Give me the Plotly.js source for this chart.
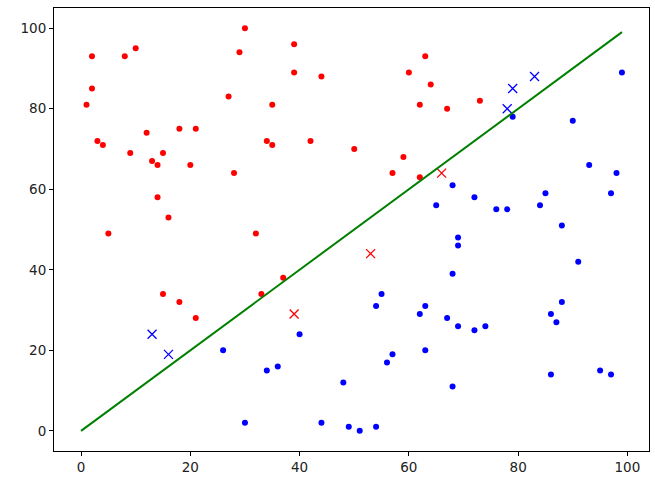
<!DOCTYPE html>
<html>
<head>
<meta charset="utf-8">
<script src="https://cdn.plot.ly/plotly-3.0.1.min.js"></script>
<style>html,body{margin:0;padding:0;background:#fff;}#chart{width:655px;height:491px;}</style>
</head>
<body>
<div id="chart"></div>
<script>
const redX = [30,2,8,10,29,2,1,27,12,18,21,3,4,9,13,14,15,20,28,14,16,5,32,15,18,21,39,39,44,35,34,35,42,50,59,60,63,64,62,67,73,57,62,37,33];
const redY = [100,93,93,95,94,85,81,83,74,75,75,72,71,69,67,66,69,66,64,58,53,49,49,34,32,28,96,89,88,81,72,71,72,70,68,89,93,86,81,80,82,64,63,38,34];
const blueX = [79,90,99,93,98,68,72,85,97,76,78,84,88,69,69,91,68,88,86,67,65,55,54,63,62,40,34,36,56,57,63,48,44,49,51,54,26,30,69,72,74,87,68,86,95,97];
const blueY = [78,77,89,66,64,61,58,59,59,55,55,56,51,48,46,42,39,32,29,28,56,34,31,31,29,24,15,16,17,19,20,12,2,1,0,1,20,2,26,25,26,27,11,14,15,14];
const redCrossX = [39,53,66];
const redCrossY = [29,44,64];
const blueCrossX = [13,16,78,79,83];
const blueCrossY = [24,19,80,85,88];
const lineX = [0,99];
const lineY = [0,99];

const traces = [
  {x: redX, y: redY, mode: 'markers', type: 'scatter', marker: {color: '#ff0000', size: 6}},
  {x: blueX, y: blueY, mode: 'markers', type: 'scatter', marker: {color: '#0000ff', size: 6}},
  {x: redCrossX, y: redCrossY, mode: 'markers', type: 'scatter', marker: {color: '#ff0000', size: 9, symbol: 'x-thin-open', line: {color: '#ff0000', width: 1.3}}},
  {x: blueCrossX, y: blueCrossY, mode: 'markers', type: 'scatter', marker: {color: '#0000ff', size: 9, symbol: 'x-thin-open', line: {color: '#0000ff', width: 1.3}}},
  {x: lineX, y: lineY, mode: 'lines', type: 'scatter', line: {color: '#008000', width: 2}}
];

const axisCommon = {
  showgrid: false, zeroline: false, showline: true, mirror: true,
  linecolor: '#000', linewidth: 1, ticks: 'outside', ticklen: 4, tickwidth: 1, tickcolor: '#000',
  tickfont: {family: 'DejaVu Sans', size: 13.5, color: '#222'}
};

const layout = {
  width: 655, height: 491,
  margin: {l: 54, r: 6, t: 8, b: 40},
  paper_bgcolor: '#fff', plot_bgcolor: '#fff',
  showlegend: false,
  xaxis: Object.assign({}, axisCommon, {range: [-4.95, 103.95], tickvals: [0,20,40,60,80,100]}),
  yaxis: Object.assign({}, axisCommon, {range: [-5, 105], tickvals: [0,20,40,60,80,100]})
};

Plotly.newPlot('chart', traces, layout, {displayModeBar: false, staticPlot: true});
</script>
</body>
</html>
